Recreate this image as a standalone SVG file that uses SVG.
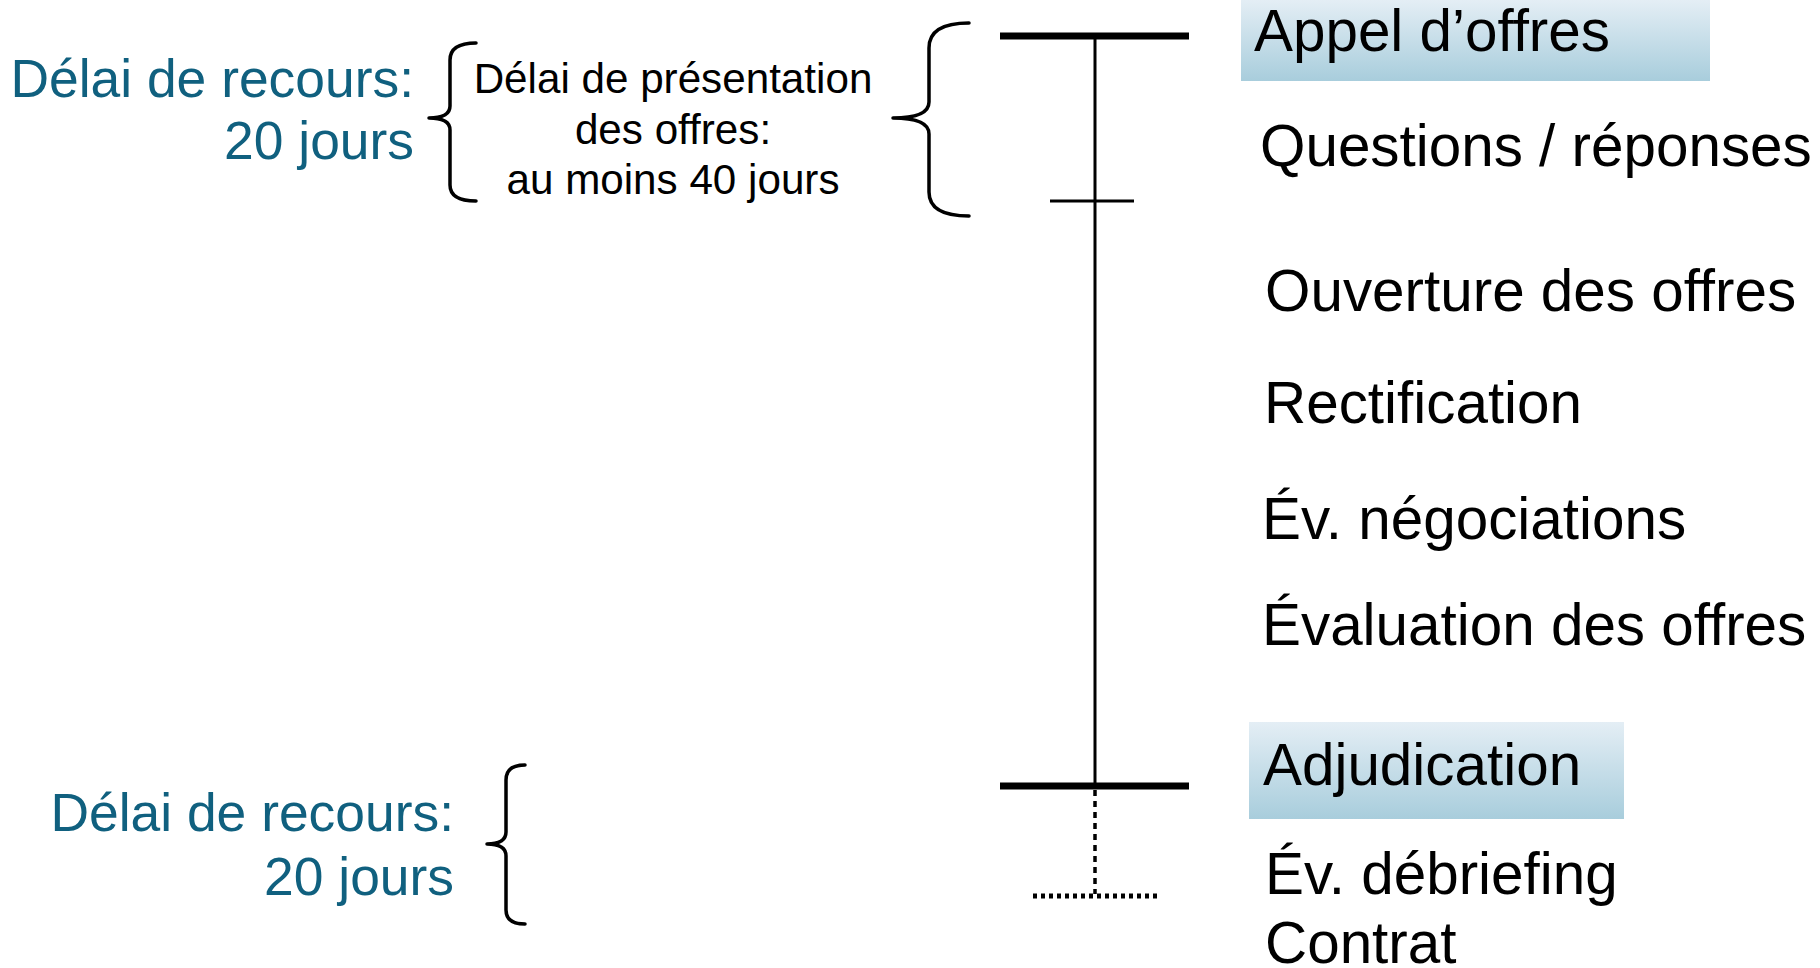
<svg xmlns="http://www.w3.org/2000/svg" width="1820" height="968" viewBox="0 0 1820 968">
<defs>
<linearGradient id="hl" x1="0" y1="0" x2="0" y2="1">
<stop offset="0" stop-color="#e4eef5"/>
<stop offset="1" stop-color="#a8cddc"/>
</linearGradient>
<style>
.lbl{font-family:"Liberation Sans",Arial,sans-serif;font-size:58.4px;fill:#000}
.blue{font-family:"Liberation Sans",Arial,sans-serif;font-size:53.4px;fill:#10607f;text-anchor:end}
.mid{font-family:"Liberation Sans",Arial,sans-serif;font-size:42.2px;fill:#000;text-anchor:middle}
.brace{fill:none;stroke:#000;stroke-width:3.5;stroke-linecap:round;stroke-linejoin:round}
.thick{stroke:#000;stroke-width:7}
.thin{stroke:#000;stroke-width:3}
</style>
</defs>
<rect width="1820" height="968" fill="#fff"/>

<g id="connectors">
<line class="thick" x1="1000" y1="36" x2="1189" y2="36"/>
<line class="thin" x1="1095" y1="36" x2="1095" y2="786"/>
<line class="thin" x1="1050" y1="201" x2="1134" y2="201"/>
<line class="thick" x1="1000" y1="786" x2="1189" y2="786"/>
<line x1="1095" y1="790" x2="1095" y2="894" stroke="#000" stroke-width="3.5" stroke-dasharray="6,5"/>
<line x1="1033" y1="896" x2="1161" y2="896" stroke="#000" stroke-width="5" stroke-dasharray="4,4"/>
</g>

<g id="brace-recours-1">
<path class="brace" d="M476 43 Q450 43 450 60 L450 106 Q450 118 429 118 Q450 118 450 130 L450 185 Q450 201 476 201"/>
<text class="blue" x="414" y="97">Délai de recours:</text>
<text class="blue" x="414" y="159">20 jours</text>
</g>

<g id="presentation">
<text class="mid" x="673" y="93">Délai de présentation</text>
<text class="mid" x="673" y="144">des offres:</text>
<text class="mid" x="673" y="194">au moins 40 jours</text>
</g>

<g id="brace-presentation">
<path class="brace" d="M969 23 Q929 23 929 48 L929 102 Q929 118 893 118 Q929 118 929 134 L929 192 Q929 216 969 216"/>
</g>

<g id="appel">
<rect x="1241" y="0" width="469" height="81" fill="url(#hl)"/>
<text class="lbl" x="1254" y="51">Appel d’offres</text>
</g>
<g id="questions"><text class="lbl" x="1260" y="166">Questions / réponses</text></g>
<g id="ouverture"><text class="lbl" x="1265" y="311">Ouverture des offres</text></g>
<g id="rectification"><text class="lbl" x="1264" y="423">Rectification</text></g>
<g id="negociations"><text class="lbl" x="1262" y="539">Év. négociations</text></g>
<g id="evaluation"><text class="lbl" x="1262" y="645">Évaluation des offres</text></g>
<g id="adjudication">
<rect x="1249" y="722" width="375" height="97" fill="url(#hl)"/>
<text class="lbl" x="1263" y="785">Adjudication</text>
</g>
<g id="debriefing"><text class="lbl" x="1265" y="894">Év. débriefing</text></g>
<g id="contrat"><text class="lbl" x="1265" y="963">Contrat</text></g>

<g id="brace-recours-2">
<path class="brace" d="M525 765 Q506 765 506 780 L506 832 Q506 844 487 844 Q506 844 506 856 L506 910 Q506 924 525 924"/>
<text class="blue" x="454" y="831">Délai de recours:</text>
<text class="blue" x="454" y="895">20 jours</text>
</g>
</svg>
